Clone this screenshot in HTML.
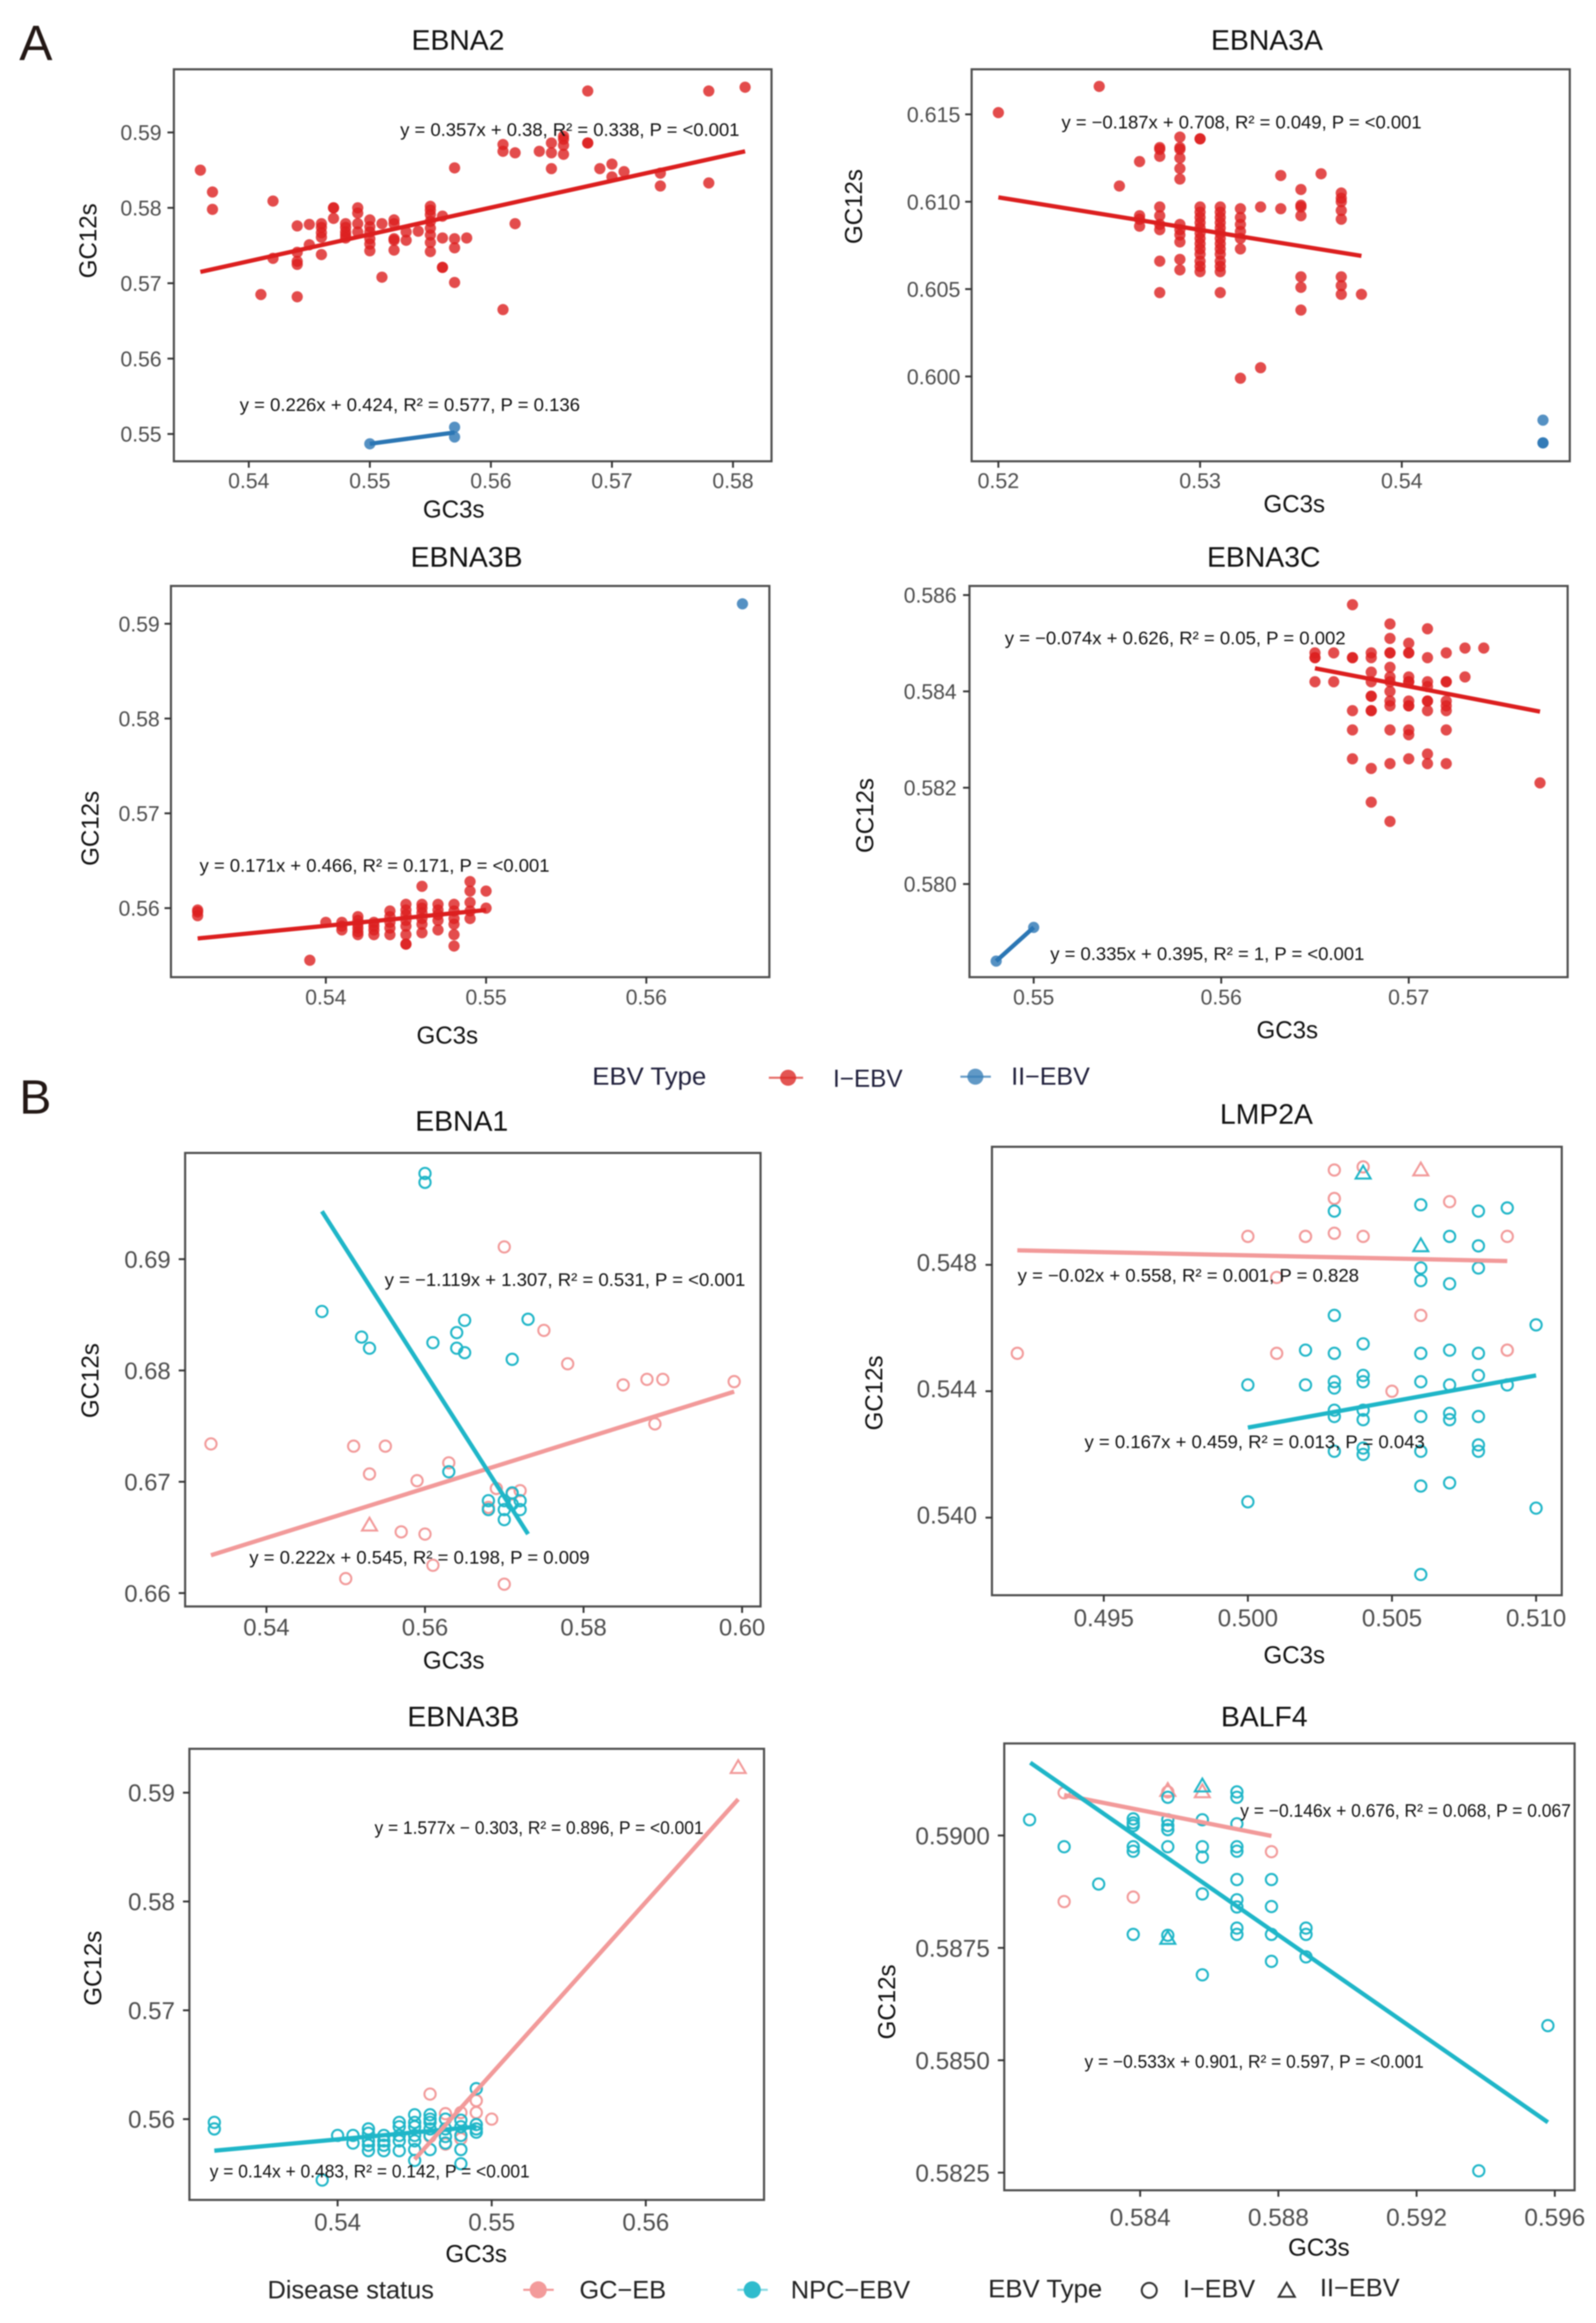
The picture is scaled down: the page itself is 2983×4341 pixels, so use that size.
<!DOCTYPE html>
<html lang="en">
<head>
<meta charset="utf-8">
<title>GC12s vs GC3s neutrality plots</title>
<style>
html,body{margin:0;padding:0;background:#fff;}
#figure{display:block;width:2983px;height:4341px;filter:blur(1px);}
text{font-family:"Liberation Sans",sans-serif;}
.title{font-size:53px;fill:#111;text-anchor:middle;}
.axis-title{font-size:45px;fill:#111;text-anchor:middle;}
.eq{font-size:34px;fill:#111;}
.panel-letter{fill:#231815;}
.legend-a{font-size:46px;fill:#20203c;}
.legend-b{font-size:47px;fill:#222;}
</style>
</head>
<body>
<svg id="figure" xmlns="http://www.w3.org/2000/svg" width="2983" height="4341" viewBox="0 0 2983 4341">
<rect width="2983" height="4341" fill="#fff"/>
<g id="plots"></g>

<text class="panel-letter" x="36" y="112" font-size="93">A</text>
<text class="panel-letter" x="36" y="2081" font-size="90">B</text>

<text class="title" x="856" y="93">EBNA2</text>
<text class="title" x="2368" y="93">EBNA3A</text>
<text class="title" x="872" y="1059">EBNA3B</text>
<text class="title" x="2362" y="1059">EBNA3C</text>
<text class="title" x="863" y="2113">EBNA1</text>
<text class="title" x="2367" y="2100">LMP2A</text>
<text class="title" x="866" y="3226">EBNA3B</text>
<text class="title" x="2363" y="3226">BALF4</text>

<text class="axis-title" x="848" y="967">GC3s</text>
<text class="axis-title" x="2419" y="957">GC3s</text>
<text class="axis-title" x="836" y="1950">GC3s</text>
<text class="axis-title" x="2406" y="1940">GC3s</text>
<text class="axis-title" x="848" y="3118">GC3s</text>
<text class="axis-title" x="2419" y="3108">GC3s</text>
<text class="axis-title" x="890" y="4227">GC3s</text>
<text class="axis-title" x="2465" y="4215">GC3s</text>

<text class="axis-title" transform="translate(180 450) rotate(-90)">GC12s</text>
<text class="axis-title" transform="translate(1611 386) rotate(-90)">GC12s</text>
<text class="axis-title" transform="translate(184 1548) rotate(-90)">GC12s</text>
<text class="axis-title" transform="translate(1632 1524) rotate(-90)">GC12s</text>
<text class="axis-title" transform="translate(184 2580) rotate(-90)">GC12s</text>
<text class="axis-title" transform="translate(1649 2603) rotate(-90)">GC12s</text>
<text class="axis-title" transform="translate(189 3678) rotate(-90)">GC12s</text>
<text class="axis-title" transform="translate(1673 3741) rotate(-90)">GC12s</text>

<text class="eq" x="748" y="254" textLength="634" lengthAdjust="spacingAndGlyphs">y = 0.357x + 0.38, R² = 0.338, P = &lt;0.001</text>
<text class="eq" x="448" y="768" textLength="636" lengthAdjust="spacingAndGlyphs">y = 0.226x + 0.424, R² = 0.577, P = 0.136</text>
<text class="eq" x="1984" y="240" textLength="673" lengthAdjust="spacingAndGlyphs">y = −0.187x + 0.708, R² = 0.049, P = &lt;0.001</text>
<text class="eq" x="373" y="1629" textLength="654" lengthAdjust="spacingAndGlyphs">y = 0.171x + 0.466, R² = 0.171, P = &lt;0.001</text>
<text class="eq" x="1878" y="1204" textLength="637" lengthAdjust="spacingAndGlyphs">y = −0.074x + 0.626, R² = 0.05, P = 0.002</text>
<text class="eq" x="1963" y="1794" textLength="587" lengthAdjust="spacingAndGlyphs">y = 0.335x + 0.395, R² = 1, P = &lt;0.001</text>
<text class="eq" x="719" y="2403" textLength="674" lengthAdjust="spacingAndGlyphs">y = −1.119x + 1.307, R² = 0.531, P = &lt;0.001</text>
<text class="eq" x="466" y="2922" textLength="636" lengthAdjust="spacingAndGlyphs">y = 0.222x + 0.545, R² = 0.198, P = 0.009</text>
<text class="eq" x="1902" y="2395" textLength="638" lengthAdjust="spacingAndGlyphs">y = −0.02x + 0.558, R² = 0.001, P = 0.828</text>
<text class="eq" x="2027" y="2706" textLength="636" lengthAdjust="spacingAndGlyphs">y = 0.167x + 0.459, R² = 0.013, P = 0.043</text>
<text class="eq" x="700" y="3427" textLength="615" lengthAdjust="spacingAndGlyphs">y = 1.577x − 0.303, R² = 0.896, P = &lt;0.001</text>
<text class="eq" x="392" y="4069" textLength="598" lengthAdjust="spacingAndGlyphs">y = 0.14x + 0.483, R² = 0.142, P = &lt;0.001</text>
<text class="eq" x="2318" y="3395" textLength="618" lengthAdjust="spacingAndGlyphs">y = −0.146x + 0.676, R² = 0.068, P = 0.067</text>
<text class="eq" x="2027" y="3864" textLength="634" lengthAdjust="spacingAndGlyphs">y = −0.533x + 0.901, R² = 0.597, P = &lt;0.001</text>

<g>
<text class="legend-a" x="1107" y="2027" textLength="213" lengthAdjust="spacingAndGlyphs" fill="#111">EBV Type</text>
<line x1="1437" y1="2014" x2="1501" y2="2014" stroke="#e0413c" stroke-width="4" opacity=".75"/>
<circle cx="1473" cy="2014" r="15" fill="#dc2a28" opacity=".8"/>
<text class="legend-a" x="1557" y="2031" textLength="130" lengthAdjust="spacingAndGlyphs">I−EBV</text>
<line x1="1795" y1="2012" x2="1852" y2="2012" stroke="#3a7fb8" stroke-width="4" opacity=".75"/>
<circle cx="1823" cy="2012" r="15" fill="#3a7fb8" opacity=".8"/>
<text class="legend-a" x="1890" y="2027" textLength="147" lengthAdjust="spacingAndGlyphs">II−EBV</text>
</g>

<g>
<text class="legend-b" x="500" y="4295" textLength="311" lengthAdjust="spacingAndGlyphs">Disease status</text>
<line x1="978" y1="4279" x2="1035" y2="4279" stroke="#f39b9b" stroke-width="4"/>
<circle cx="1006" cy="4279" r="16" fill="#f39b9b"/>
<text class="legend-b" x="1083" y="4295" textLength="162" lengthAdjust="spacingAndGlyphs">GC−EB</text>
<line x1="1378" y1="4279" x2="1435" y2="4279" stroke="#8adbe4" stroke-width="4"/>
<circle cx="1406" cy="4279" r="16" fill="#2fbccd"/>
<text class="legend-b" x="1478" y="4295" textLength="223" lengthAdjust="spacingAndGlyphs">NPC−EBV</text>
</g>

<g>
<text class="legend-b" x="1847" y="4293" textLength="213" lengthAdjust="spacingAndGlyphs">EBV Type</text>
<circle cx="2148" cy="4280" r="14" fill="none" stroke="#333" stroke-width="3.8"/>
<text class="legend-b" x="2211" y="4293" textLength="135" lengthAdjust="spacingAndGlyphs">I−EBV</text>
<polygon points="2405,4266 2390,4292 2420,4292" fill="none" stroke="#333" stroke-width="3.8"/>
<text class="legend-b" x="2467" y="4291" textLength="149" lengthAdjust="spacingAndGlyphs">II−EBV</text>
</g>
</svg>

<script>
const RED = '#dc1f1f';
const BLUE = '#2b76b4';
const PINK = '#f29a9a';
const CYAN = '#1fb6c8';

/* ---------- Panel A: EBNA2 ---------- */
const ebna2XTicks = ['0.54','0.55','0.56','0.57','0.58'];
const ebna2YTicks = ['0.59','0.58','0.57','0.56','0.55'];
const ebna2TypeIX = [.536,.537,.537,.541,.542,.542,.544,.544,.544,.544,.544,.545,.545,.546,.546,.546,.546,.546,.547,.547,.547,
  .548,.548,.548,.548,.548,.549,.549,.549,.549,.55,.55,.55,.55,.55,.55,.551,.551,.552,.552,.552,.552,.552,.553,.553,.554,
  .555,.555,.555,.555,.555,.555,.555,.555,.556,.556,.556,.556,.557,.557,.557,.557,.558,.561,.561,.561,.562,.562,.564,
  .565,.565,.565,.566,.566,.566,.566,.568,.568,.568,.569,.57,.57,.571,.574,.574,.578,.578,.581];
const ebna2TypeIY = [.585,.5821,.5798,.5685,.5809,.5733,.5776,.5741,.5729,.5725,.5682,.5778,.5751,.5779,.5774,.5767,.5761,.5738,.58,.58,.5786,
  .5779,.5774,.5768,.5764,.576,.58,.5793,.5779,.5768,.5784,.5775,.5768,.5759,.5752,.5743,.5779,.5708,.5784,.5779,.5759,.5757,.5744,.5768,.5757,.5769,
  .5802,.5797,.5791,.5782,.5773,.5764,.5754,.5742,.5789,.576,.5721,.5721,.5853,.5759,.5747,.5701,.576,.5884,.5875,.5665,.5873,.5779,.5875,
  .5886,.5873,.5852,.5895,.5891,.5883,.5871,.5955,.5886,.5886,.5852,.5858,.5841,.5848,.5846,.5829,.5955,.5833,.596];
const ebna2TypeIIX = [.55,.557,.557];
const ebna2TypeIIY = [.5487,.5509,.5496];
const ebna2FitIX = [.536,.581];
const ebna2FitIY = [.5715,.5875];
const ebna2FitIIX = [.55,.557];
const ebna2FitIIY = [.5487,.5502];

/* ---------- Panel A: EBNA3A ---------- */
const ebna3aXTicks = ['0.52','0.53','0.54'];
const ebna3aYTicks = ['0.615','0.610','0.605','0.600'];
const ebna3aTypeIX = [.52,.525,.526,.527,.527,.527,.527,.528,.528,.528,.528,.528,.528,.528,.528,.528,
  .529,.529,.529,.529,.529,.529,.529,.529,.529,.529,.529,.529,
  .53,.53,.53,.53,.53,.53,.53,.53,.53,.53,.53,.53,.53,.53,.53,
  .531,.531,.531,.531,.531,.531,.531,.531,.531,.531,.531,.531,.531,.531,
  .532,.532,.532,.532,.532,.532,.532,.533,.533,.534,.534,
  .535,.535,.535,.535,.535,.535,.535,.536,.537,.537,.537,.537,.537,.537,.537,.537,.538];
const ebna3aTypeIY = [.6151,.6166,.6109,.6123,.6092,.609,.6086,.6131,.613,.6126,.6097,.6092,.6087,.6084,.6066,.6048,
  .6137,.6131,.613,.6125,.6119,.6113,.6087,.6084,.6081,.6077,.6067,.6061,
  .6136,.6136,.6097,.6094,.6091,.6088,.6085,.6082,.6079,.6076,.6073,.607,.6066,.6063,.606,
  .6097,.6094,.6091,.6088,.6085,.6082,.6079,.6076,.6073,.607,.6066,.6063,.606,.6048,
  .6096,.6091,.6087,.6083,.6079,.6073,.5999,.6097,.6005,.6115,.6096,
  .6107,.6098,.6097,.6092,.6057,.6051,.6038,.6116,.6105,.6102,.61,.6095,.609,.6057,.6052,.6047,.6047];
const ebna3aTypeIIX = [.547,.547,.547];
const ebna3aTypeIIY = [.5975,.5962,.5962];
const ebna3aFitIX = [.52,.538];
const ebna3aFitIY = [.61025,.6069];

/* ---------- Panel A: EBNA3B ---------- */
const ebna3bAXTicks = ['0.54','0.55','0.56'];
const ebna3bAYTicks = ['0.59','0.58','0.57','0.56'];
const ebna3bATypeIX = [.532,.532,.532,.539,.54,.541,.541,.541,
  .542,.542,.542,.542,.542,.542,.543,.543,.543,.543,.544,.544,.544,.544,.544,
  .545,.545,.545,.545,.545,.545,.545,.545,.546,.546,.546,.546,.546,.546,.546,
  .547,.547,.547,.547,.547,.548,.548,.548,.548,.548,.548,.549,.549,.549,.549,.549,.55,.55];
const ebna3bATypeIY = [.5598,.5596,.5592,.5545,.5585,.5585,.5581,.5577,
  .5591,.5587,.5583,.5579,.5575,.5572,.5585,.5581,.5577,.5572,.5597,.5591,.5585,.5579,.5572,
  .5604,.5598,.5593,.5587,.5581,.5572,.5562,.5562,.5623,.5604,.56,.5595,.5589,.5583,.5574,
  .5604,.5598,.5593,.5587,.5577,.5604,.5597,.5589,.5583,.5572,.556,.5628,.5618,.5606,.5597,.5589,.5618,.56];
const ebna3bATypeIIX = [.566];
const ebna3bATypeIIY = [.5921];
const ebna3bAFitIX = [.532,.55];
const ebna3bAFitIY = [.5568,.5598];

/* ---------- Panel A: EBNA3C ---------- */
const ebna3cXTicks = ['0.55','0.56','0.57'];
const ebna3cYTicks = ['0.586','0.584','0.582','0.580'];
const ebna3cTypeIX = [.565,.565,.565,.565,.566,.566,.567,.567,.567,.567,.567,.567,
  .568,.568,.568,.568,.568,.568,.568,.568,.568,.568,
  .569,.569,.569,.569,.569,.569,.569,.569,.569,.569,.569,.569,.569,
  .57,.57,.57,.57,.57,.57,.57,.57,.57,.57,.57,.57,
  .571,.571,.571,.571,.571,.571,.571,.571,.571,
  .572,.572,.572,.572,.572,.572,.572,.572,.573,.573,.574,.577];
const ebna3cTypeIY = [.5848,.5847,.5847,.5842,.5848,.5842,.5858,.5847,.5847,.5836,.5832,.5826,
  .5848,.5847,.5844,.5842,.5839,.5839,.5836,.5836,.5824,.5817,
  .5854,.5851,.5848,.5848,.5845,.5843,.5842,.584,.5838,.5837,.5832,.5825,.5813,
  .585,.5848,.5848,.5843,.5842,.5842,.5838,.5837,.5837,.5832,.5831,.5826,
  .5853,.5847,.5842,.5841,.5838,.5838,.5836,.5827,.5825,
  .5848,.5842,.5842,.5838,.5837,.5836,.5832,.5825,.5849,.5843,.5849,.5821];
const ebna3cTypeIIX = [.548,.55];
const ebna3cTypeIIY = [.5784,.5791];
const ebna3cFitIX = [.565,.577];
const ebna3cFitIY = [.58448,.58358];
const ebna3cFitIIX = [.548,.55];
const ebna3cFitIIY = [.5784,.5791];

/* ---------- Panel B: EBNA1 ---------- */
const ebna1XTicks = ['0.54','0.56','0.58','0.60'];
const ebna1YTicks = ['0.69','0.68','0.67','0.66'];
const ebna1GcX = [.533,.551,.555,.553,.559,.563,.57,.575,.578,.585,.588,.59,.599,.589,.557,.56,.561,.55,.57,.569,.572,.568,.571];
const ebna1GcY = [.6734,.6732,.6732,.6707,.6701,.6717,.6911,.6836,.6806,.6787,.6792,.6792,.679,.6752,.6655,.6653,.6625,.6613,.6608,.6694,.6692,.6677,.6689];
const ebna1GcTriX = [.553];
const ebna1GcTriY = [.6661];
const ebna1NpcX = [.56,.56,.547,.552,.553,.561,.564,.564,.565,.565,.573,.571,.563,.568,.568,.57,.57,.57,.571,.571,.572,.572];
const ebna1NpcY = [.6977,.6969,.6853,.683,.682,.6825,.6834,.682,.6845,.6816,.6846,.681,.6709,.6683,.6675,.6683,.6675,.6666,.669,.668,.6683,.6675];
const ebna1FitGcX = [.533,.599];
const ebna1FitGcY = [.6634,.6781];
const ebna1FitNpcX = [.547,.573];
const ebna1FitNpcY = [.6943,.6653];

/* ---------- Panel B: LMP2A ---------- */
const lmp2aXTicks = ['0.495','0.500','0.505','0.510'];
const lmp2aYTicks = ['0.548','0.544','0.540'];
const lmp2aGcX = [.492,.5,.501,.501,.502,.502,.503,.503,.503,.503,.504,.504,.505,.506,.507,.509,.509,.509];
const lmp2aGcY = [.5452,.5489,.5452,.5476,.5489,.5489,.551,.5501,.5501,.549,.5511,.5489,.544,.5464,.55,.5489,.5453,.5453];
const lmp2aGcTriX = [.506];
const lmp2aGcTriY = [.551];
const lmp2aNpcX = [.503,.503,.503,.503,.503,.503,.503,.503,.502,.502,.5,.5,
  .504,.504,.504,.504,.504,.504,.504,
  .506,.506,.506,.506,.506,.506,.506,.506,.506,
  .507,.507,.507,.507,.507,.507,.507,
  .508,.508,.508,.508,.508,.508,.508,.508,
  .509,.509,.51,.51];
const lmp2aNpcY = [.5497,.5464,.5452,.5443,.5441,.5434,.5432,.5421,.5453,.5442,.5442,.5405,
  .5455,.5445,.5443,.5434,.5431,.5422,.542,
  .5499,.5479,.5475,.5452,.5443,.5432,.5421,.541,.5382,
  .5489,.5474,.5453,.5442,.5433,.5431,.5411,
  .5497,.5486,.5479,.5452,.5445,.5432,.5423,.5421,
  .5498,.5442,.5461,.5403];
const lmp2aNpcTriX = [.504,.506];
const lmp2aNpcTriY = [.5509,.5486];
const lmp2aFitGcX = [.492,.509];
const lmp2aFitGcY = [.54846,.54812];
const lmp2aFitNpcX = [.5,.51];
const lmp2aFitNpcY = [.54285,.5445];

/* ---------- Panel B: EBNA3B ---------- */
const ebna3bBXTicks = ['0.54','0.55','0.56'];
const ebna3bBYTicks = ['0.59','0.58','0.57','0.56'];
const ebna3bBGcX = [.546,.547,.548,.549,.549,.55,.548,.547,.546];
const ebna3bBGcY = [.5623,.5605,.5606,.5617,.5606,.56,.5582,.5577,.5584];
const ebna3bBGcTriX = [.566];
const ebna3bBGcTriY = [.5923];
const ebna3bBNpcX = [.532,.532,.539,.54,.541,.541,
  .542,.542,.542,.542,.542,.543,.543,.543,.543,.544,.544,.544,.544,.544,
  .545,.545,.545,.545,.545,.545,.545,.546,.546,.546,.546,.546,.546,
  .547,.547,.547,.547,.548,.548,.548,.548,.548,.549,.549,.549,.549];
const ebna3bBNpcY = [.5597,.5591,.5544,.5585,.5585,.5578,
  .5591,.5587,.558,.5576,.5571,.5585,.558,.5576,.5571,.5597,.5593,.5585,.558,.5571,
  .5604,.5597,.5593,.5585,.558,.5572,.5562,.5604,.56,.5597,.5591,.5585,.5572,
  .56,.5591,.5584,.5578,.5599,.5593,.5585,.5572,.5559,.5628,.5595,.5591,.5588];
const ebna3bBFitGcX = [.545,.566];
const ebna3bBFitGcY = [.5563,.5894];
const ebna3bBFitNpcX = [.532,.549];
const ebna3bBFitNpcY = [.5571,.5593];

/* ---------- Panel B: BALF4 ---------- */
const balf4XTicks = ['0.584','0.588','0.592','0.596'];
const balf4YTicks = ['0.5900','0.5875','0.5850','0.5825'];
const balf4GcX = [.5818,.5818,.5838,.5848,.5878];
const balf4GcY = [.59095,.58853,.58863,.59097,.58964];
const balf4GcTriX = [.5848,.5858];
const balf4GcTriY = [.591,.59097];
const balf4NpcX = [.5808,.5818,.5828,.5838,.5838,.5838,.5838,.5838,.5838,
  .5848,.5848,.5848,.5848,.5848,.5848,
  .5858,.5858,.5858,.5858,.5858,
  .5868,.5868,.5868,.5868,.5868,.5868,.5868,.5868,.5868,.5868,
  .5878,.5878,.5878,.5878,.5888,.5888,.5888,.5938,.5958];
const balf4NpcY = [.59035,.58975,.58892,.59037,.59028,.59022,.58975,.58965,.5878,
  .59085,.59035,.59022,.59013,.58975,.58778,
  .59035,.58975,.58952,.5887,.5869,
  .59097,.59085,.59026,.58975,.58965,.58902,.58857,.58841,.58794,.5878,
  .58902,.58842,.5878,.5872,.58794,.5878,.5873,.58254,.58577];
const balf4NpcTriX = [.5858,.5848];
const balf4NpcTriY = [.5911,.58771];
const balf4FitGcX = [.5818,.5878];
const balf4FitGcY = [.5909,.58999];
const balf4FitNpcX = [.58082,.5958];
const balf4FitNpcY = [.59162,.58362];

/* Layout: frame = [left, top, right, bottom]; xAnchor / yAnchor = [value, pixel, value, pixel] */
const panels = [
  {name:'ebna2', frame:[325,129.5,1442,862], xAnchor:[.54,465,.58,1370], yAnchor:[.59,247.5,.55,811],
   xTicks:ebna2XTicks, yTicks:ebna2YTicks, fontSize:39.5, xLabelY:912, yGap:23, yLabelShift:0,
   marks:[{shape:'dot',color:RED,x:ebna2TypeIX,y:ebna2TypeIY,label:'type-i'},{shape:'dot',color:BLUE,x:ebna2TypeIIX,y:ebna2TypeIIY,label:'type-ii'}],
   fits:[{color:RED,x:ebna2FitIX,y:ebna2FitIY,label:'type-i'},{color:BLUE,x:ebna2FitIIX,y:ebna2FitIIY,label:'type-ii'}]},
  {name:'ebna3a', frame:[1816,129.5,2934,862], xAnchor:[.52,1866,.54,2620], yAnchor:[.615,213.7,.6,703.5],
   xTicks:ebna3aXTicks, yTicks:ebna3aYTicks, fontSize:40, xLabelY:912, yGap:21, yLabelShift:0,
   marks:[{shape:'dot',color:RED,x:ebna3aTypeIX,y:ebna3aTypeIY,label:'type-i'},{shape:'dot',color:BLUE,x:ebna3aTypeIIX,y:ebna3aTypeIIY,label:'type-ii'}],
   fits:[{color:RED,x:ebna3aFitIX,y:ebna3aFitIY,label:'type-i'}]},
  {name:'ebna3b-a', frame:[319.5,1095,1438,1826], xAnchor:[.54,609,.56,1208], yAnchor:[.59,1165.6,.56,1697],
   xTicks:ebna3bAXTicks, yTicks:ebna3bAYTicks, fontSize:39.5, xLabelY:1877, yGap:21, yLabelShift:0,
   marks:[{shape:'dot',color:RED,x:ebna3bATypeIX,y:ebna3bATypeIY,label:'type-i'},{shape:'dot',color:BLUE,x:ebna3bATypeIIX,y:ebna3bATypeIIY,label:'type-ii'}],
   fits:[{color:RED,x:ebna3bAFitIX,y:ebna3bAFitIY,label:'type-i'}]},
  {name:'ebna3c', frame:[1812,1095,2930,1826], xAnchor:[.55,1932,.57,2633], yAnchor:[.586,1112,.58,1652],
   xTicks:ebna3cXTicks, yTicks:ebna3cYTicks, fontSize:39.5, xLabelY:1877, yGap:24, yLabelShift:0,
   marks:[{shape:'dot',color:RED,x:ebna3cTypeIX,y:ebna3cTypeIY,label:'type-i'},{shape:'dot',color:BLUE,x:ebna3cTypeIIX,y:ebna3cTypeIIY,label:'type-ii'}],
   fits:[{color:RED,x:ebna3cFitIX,y:ebna3cFitIY,label:'type-i'},{color:BLUE,x:ebna3cFitIIX,y:ebna3cFitIIY,label:'type-ii'}]},
  {name:'ebna1', frame:[346,2154.5,1421.5,3002], xAnchor:[.54,498,.6,1387], yAnchor:[.69,2353,.66,2977],
   xTicks:ebna1XTicks, yTicks:ebna1YTicks, fontSize:44.5, xLabelY:3056, yGap:27, yLabelShift:0,
   marks:[{shape:'ring',color:PINK,x:ebna1GcX,y:ebna1GcY,label:'gc'},{shape:'tri',color:PINK,x:ebna1GcTriX,y:ebna1GcTriY,label:'gc-type-ii'},{shape:'ring',color:CYAN,x:ebna1NpcX,y:ebna1NpcY,label:'npc'}],
   fits:[{color:PINK,x:ebna1FitGcX,y:ebna1FitGcY,label:'gc'},{color:CYAN,x:ebna1FitNpcX,y:ebna1FitNpcY,label:'npc'}]},
  {name:'lmp2a', frame:[1854,2143,2919,2981], xAnchor:[.495,2063,.51,2871], yAnchor:[.548,2363.6,.54,2836],
   xTicks:lmp2aXTicks, yTicks:lmp2aYTicks, fontSize:45, xLabelY:3039, yGap:28, yLabelShift:-5,
   marks:[{shape:'ring',color:PINK,x:lmp2aGcX,y:lmp2aGcY,label:'gc'},{shape:'tri',color:PINK,x:lmp2aGcTriX,y:lmp2aGcTriY,label:'gc-type-ii'},{shape:'ring',color:CYAN,x:lmp2aNpcX,y:lmp2aNpcY,label:'npc'},{shape:'tri',color:CYAN,x:lmp2aNpcTriX,y:lmp2aNpcTriY,label:'npc-type-ii'}],
   fits:[{color:PINK,x:lmp2aFitGcX,y:lmp2aFitGcY,label:'gc'},{color:CYAN,x:lmp2aFitNpcX,y:lmp2aFitNpcY,label:'npc'}]},
  {name:'ebna3b-b', frame:[354,3268,1428,4111], xAnchor:[.54,631,.56,1207], yAnchor:[.59,3350,.56,3960],
   xTicks:ebna3bBXTicks, yTicks:ebna3bBYTicks, fontSize:45, xLabelY:4168, yGap:27, yLabelShift:0,
   marks:[{shape:'ring',color:PINK,x:ebna3bBGcX,y:ebna3bBGcY,label:'gc'},{shape:'tri',color:PINK,x:ebna3bBGcTriX,y:ebna3bBGcTriY,label:'gc-type-ii'},{shape:'ring',color:CYAN,x:ebna3bBNpcX,y:ebna3bBNpcY,label:'npc'}],
   fits:[{color:CYAN,x:ebna3bBFitNpcX,y:ebna3bBFitNpcY,label:'npc'},{color:PINK,x:ebna3bBFitGcX,y:ebna3bBFitGcY,label:'gc'}]},
  {name:'balf4', frame:[1877,3258,2943,4093], xAnchor:[.584,2131,.596,2906], yAnchor:[.59,3430,.5825,4060],
   xTicks:balf4XTicks, yTicks:balf4YTicks, fontSize:45.5, xLabelY:4159, yGap:27, yLabelShift:0,
   marks:[{shape:'ring',color:PINK,x:balf4GcX,y:balf4GcY,label:'gc'},{shape:'tri',color:PINK,x:balf4GcTriX,y:balf4GcTriY,label:'gc-type-ii'},{shape:'ring',color:CYAN,x:balf4NpcX,y:balf4NpcY,label:'npc'},{shape:'tri',color:CYAN,x:balf4NpcTriX,y:balf4NpcTriY,label:'npc-type-ii'}],
   fits:[{color:PINK,x:balf4FitGcX,y:balf4FitGcY,label:'gc'},{color:CYAN,x:balf4FitNpcX,y:balf4FitNpcY,label:'npc'}]}
];

const NS = 'http://www.w3.org/2000/svg';

function svgEl(tag, attrs, parent) {
  const el = document.createElementNS(NS, tag);
  for (const k in attrs) el.setAttribute(k, attrs[k]);
  parent.appendChild(el);
  return el;
}

function linearScale(anchor) {
  const k = (anchor[3] - anchor[1]) / (anchor[2] - anchor[0]);
  return function (v) { return anchor[1] + (v - anchor[0]) * k; };
}

function drawFrameAndAxes(g, p, sx, sy) {
  const f = p.frame;
  const frame = svgEl('rect', {x:f[0], y:f[1], width:f[2]-f[0], height:f[3]-f[1], fill:'none', stroke:'#4f4f4f', 'stroke-width':4}, g);
  
  

  p.xTicks.forEach(function (label) {
    const px = sx(parseFloat(label));
    const tick = svgEl('line', {x1:px, x2:px, y1:f[3], y2:f[3]+12, stroke:'#333', 'stroke-width':3.5}, g);
    
    
    const text = svgEl('text', {x:px, y:p.xLabelY, 'text-anchor':'middle', 'font-size':p.fontSize, fill:'#4d4d4d'}, g);
    text.textContent = label;
    
    
  });

  p.yTicks.forEach(function (label) {
    const py = sy(parseFloat(label));
    const tick = svgEl('line', {x1:f[0]-12, x2:f[0], y1:py, y2:py, stroke:'#333', 'stroke-width':3.5}, g);
    
    
    const text = svgEl('text', {x:f[0]-p.yGap, y:py+p.fontSize*0.36+p.yLabelShift, 'text-anchor':'end', 'font-size':p.fontSize, fill:'#4d4d4d'}, g);
    text.textContent = label;
    
    
  });
}

function drawMarks(g, series, sx, sy) {
  const n = Math.min(series.x.length, series.y.length);
  for (let i = 0; i < n; i++) {
    const cx = sx(series.x[i]);
    const cy = sy(series.y[i]);
    let mark;
    if (series.shape === 'dot') {
      mark = svgEl('circle', {cx:cx, cy:cy, r:10.5, fill:series.color, 'fill-opacity':0.8}, g);
    } else if (series.shape === 'ring') {
      mark = svgEl('circle', {cx:cx, cy:cy, r:10.5, fill:'none', stroke:series.color, 'stroke-width':3.8}, g);
    } else {
      const pts = cx + ',' + (cy-14) + ' ' + (cx-14) + ',' + (cy+10) + ' ' + (cx+14) + ',' + (cy+10);
      mark = svgEl('polygon', {points:pts, fill:'none', stroke:series.color, 'stroke-width':3.8}, g);
    }
    
    
  }
}

function drawFit(g, fit, sx, sy) {
  const line = svgEl('line', {x1:sx(fit.x[0]), y1:sy(fit.y[0]), x2:sx(fit.x[1]), y2:sy(fit.y[1]), stroke:fit.color, 'stroke-width':8}, g);
  
  
}

const root = document.getElementById('plots');
panels.forEach(function (p) {
  const g = svgEl('g', {}, root);
  
  
  const sx = linearScale(p.xAnchor);
  const sy = linearScale(p.yAnchor);
  drawFrameAndAxes(g, p, sx, sy);
  p.marks.forEach(function (s) { drawMarks(g, s, sx, sy); });
  p.fits.forEach(function (f) { drawFit(g, f, sx, sy); });
});
</script>
</body>
</html>
